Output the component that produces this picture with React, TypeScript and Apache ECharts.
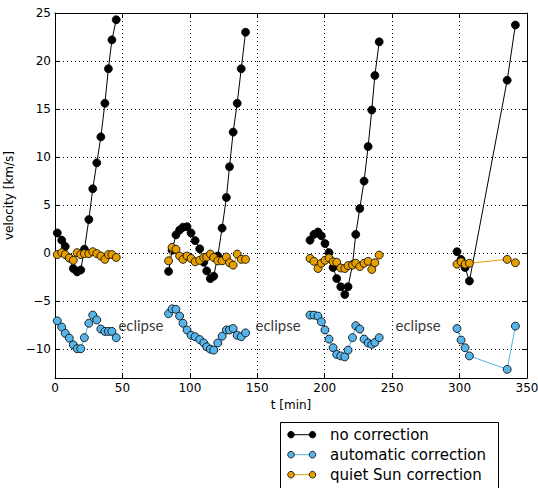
import React, { useEffect, useRef } from "react";
import * as echarts from "echarts";

// time [min] of each observation block (between eclipses)
const times1 = [1.7, 5.0, 7.6, 10.6, 13.6, 16.4, 19.1, 21.8, 25.1, 28.0, 31.0, 34.0, 37.0, 39.6, 42.2, 45.4];
const times2 = [84.2, 86.8, 89.7, 92.4, 94.9, 97.9, 100.9, 103.9, 107.3, 110.3, 112.5, 115.2, 117.7, 120.7, 123.9, 127.1, 129.4, 132.1, 135.1, 138.1, 141.3];
const times3 = [189.1, 192.0, 195.0, 197.5, 200.2, 203.2, 206.2, 208.9, 211.9, 214.9, 217.3, 220.6, 223.0, 226.0, 229.2, 232.2, 234.9, 237.2, 240.4];
const times4 = [298.1, 301.1, 304.1, 307.3, 335.3, 341.4];

// velocity [km/s], no correction
const noCorr1 = [2.1, 1.35, 0.7, -0.5, -1.6, -1.95, -1.75, 0.4, 3.5, 6.7, 9.4, 12.1, 15.6, 19.2, 22.2, 24.3];
const noCorr2 = [-1.9, 0.3, 1.9, 2.4, 2.7, 2.75, 2.1, 1.3, 0.45, -0.95, -1.85, -2.65, -2.4, -0.3, 2.6, 5.8, 9.0, 12.6, 15.6, 19.2, 23.0];
const noCorr3 = [1.35, 1.95, 2.2, 1.8, 1.0, 0.05, -1.5, -2.65, -3.5, -4.3, -3.5, -1.2, 1.95, 4.65, 7.5, 11.1, 14.9, 18.5, 22.0];
const noCorr4 = [0.15, -0.65, -1.5, -2.9, 18.0, 23.75];

// velocity [km/s], automatic correction
const autoCorr1 = [-7.05, -7.7, -8.35, -8.85, -9.55, -9.95, -9.95, -8.8, -7.3, -6.45, -6.95, -7.9, -8.15, -8.15, -8.15, -8.8];
const autoCorr2 = [-6.3, -5.8, -5.85, -6.55, -7.3, -8.0, -8.55, -8.7, -9.0, -9.35, -9.75, -10.0, -10.1, -9.35, -8.65, -8.0, -8.0, -7.85, -8.55, -8.7, -8.3];
const autoCorr3 = [-6.45, -6.45, -6.55, -7.15, -8.0, -8.95, -9.85, -10.55, -10.7, -10.8, -10.1, -8.8, -7.55, -7.9, -8.95, -9.35, -9.5, -9.3, -8.8];
const autoCorr4 = [-7.85, -9.05, -9.85, -10.7, -12.1, -7.6];

// velocity [km/s], quiet Sun correction
const quietSun1 = [-0.15, 0.05, -0.15, -0.5, -0.75, 0.05, -0.15, -0.05, -0.05, 0.15, -0.05, -0.3, -0.65, -0.15, -0.15, -0.45];
const quietSun2 = [-0.8, 0.6, 0.4, -0.3, -0.65, -0.3, -0.55, -0.9, -0.75, -0.45, -0.4, -0.1, -0.45, -0.8, -0.8, -0.4, -1.0, -1.25, -0.1, -0.65, -0.65];
const quietSun3 = [-0.55, -0.85, -1.6, -1.05, -0.75, -0.5, -0.9, -0.95, -1.55, -1.6, -1.3, -1.25, -1.05, -1.4, -1.05, -0.85, -1.7, -1.0, -0.2];
const quietSun4 = [-1.15, -0.9, -1.15, -1.05, -0.65, -1.0];

const eclipseLabelPos = [[47, -7.5], [148.7, -7.5], [252.5, -7.5]];
const legendLabels = ["no correction", "automatic correction", "quiet Sun correction"];

const segTimes = [times1, times2, times3, times4];
const seriesDefs = [
  { name: legendLabels[0], vals: [noCorr1, noCorr2, noCorr3, noCorr4], line: "#000000", fill: "#000000" },
  { name: legendLabels[1], vals: [autoCorr1, autoCorr2, autoCorr3, autoCorr4], line: "#56B4E9", fill: "#56B4E9" },
  { name: legendLabels[2], vals: [quietSun1, quietSun2, quietSun3, quietSun4], line: "#E69F00", fill: "#E69F00" },
];

const FONT = "DejaVu Sans";
const fmtMinus = (v: number) => (v < 0 ? "\u2212" + Math.abs(v) : String(v));

export default function App() {
  const ref = useRef<HTMLDivElement>(null);
  useEffect(() => {
    if (!ref.current) return;
    const chart = echarts.init(ref.current, undefined, { renderer: "svg" });

    const series: any[] = [];
    seriesDefs.forEach((def, si) => {
      segTimes.forEach((ts, k) => {
        series.push({
          type: "line",
          name: def.name,
          data: ts.map((t, j) => [t, def.vals[k][j]]),
          symbol: "circle",
          symbolSize: 8,
          showSymbol: true,
          lineStyle: { color: def.line, width: 1 },
          itemStyle: { color: def.fill, borderColor: "#000", borderWidth: 0.8 },
          z: 3 + si,
          emphasis: { disabled: true },
        });
      });
    });
    series.push({
      type: "scatter",
      data: eclipseLabelPos,
      symbolSize: 0,
      label: {
        show: true,
        position: "right",
        distance: 0,
        formatter: "eclipse",
        fontSize: 15,
        fontFamily: "Lato",
        color: "#000",
      },
      z: 10,
    });

    const axisLine = { show: true, onZero: false, lineStyle: { color: "#000", width: 1 } };
    const axisTick = { show: true, inside: true, length: 5, lineStyle: { color: "#000", width: 1 } };
    const splitLine = { show: true, lineStyle: { color: "#000", width: 1, type: [1, 3] } };

    const legendY0 = 434.7;
    const legendEls: any[] = [
      {
        type: "rect",
        shape: { x: 280.5, y: 422.5, width: 218, height: 80 },
        style: { fill: "#fff", stroke: "#000", lineWidth: 1 },
      },
    ];
    seriesDefs.forEach((def, i) => {
      const y = legendY0 + i * 20;
      legendEls.push({ type: "line", shape: { x1: 291, y1: y, x2: 312.5, y2: y }, style: { stroke: def.line, lineWidth: 1 } });
      legendEls.push({ type: "circle", shape: { cx: 291, cy: y, r: 3.3 }, style: { fill: def.fill, stroke: "#000", lineWidth: 0.8 } });
      legendEls.push({ type: "circle", shape: { cx: 312.5, cy: y, r: 3.3 }, style: { fill: def.fill, stroke: "#000", lineWidth: 0.8 } });
      legendEls.push({
        type: "text",
        x: 330,
        y,
        style: { text: def.name, fontSize: 15, fontFamily: FONT, fill: "#000", verticalAlign: "middle", align: "left" },
      });
    });

    chart.setOption({
      animation: false,
      backgroundColor: "#fff",
      grid: { left: 55, right: 11, top: 13, bottom: 110, containLabel: false, outerBoundsMode: "none" },
      xAxis: [
        {
          type: "value",
          position: "bottom",
          min: 0,
          max: 350,
          interval: 50,
          axisLine,
          axisTick,
          splitLine,
          axisLabel: { color: "#000", fontSize: 12, fontFamily: FONT, margin: 4 },
          name: "t [min]",
          nameLocation: "middle",
          nameGap: 21,
          nameTextStyle: { color: "#000", fontSize: 12, fontFamily: FONT },
        },
        {
          type: "value",
          position: "top",
          min: 0,
          max: 350,
          interval: 50,
          axisLine,
          axisTick,
          splitLine: { show: false },
          axisLabel: { show: false },
        },
      ],
      yAxis: [
        {
          type: "value",
          position: "left",
          min: -13,
          max: 25,
          splitNumber: 8,
          axisLine,
          axisTick,
          splitLine,
          axisLabel: { color: "#000", fontSize: 12, fontFamily: FONT, margin: 4, showMinLabel: false, formatter: fmtMinus },
          name: "velocity [km/s]",
          nameLocation: "middle",
          nameGap: 35,
          nameTextStyle: { color: "#000", fontSize: 12, fontFamily: FONT },
        },
        {
          type: "value",
          position: "right",
          min: -13,
          max: 25,
          splitNumber: 8,
          axisLine,
          axisTick,
          splitLine: { show: false },
          axisLabel: { show: false },
        },
      ],
      series,
      graphic: legendEls,
    });
    return () => chart.dispose();
  }, []);
  return <div ref={ref} style={{ position: "absolute", left: 0, top: 0, width: 538, height: 488 }} />;
}
